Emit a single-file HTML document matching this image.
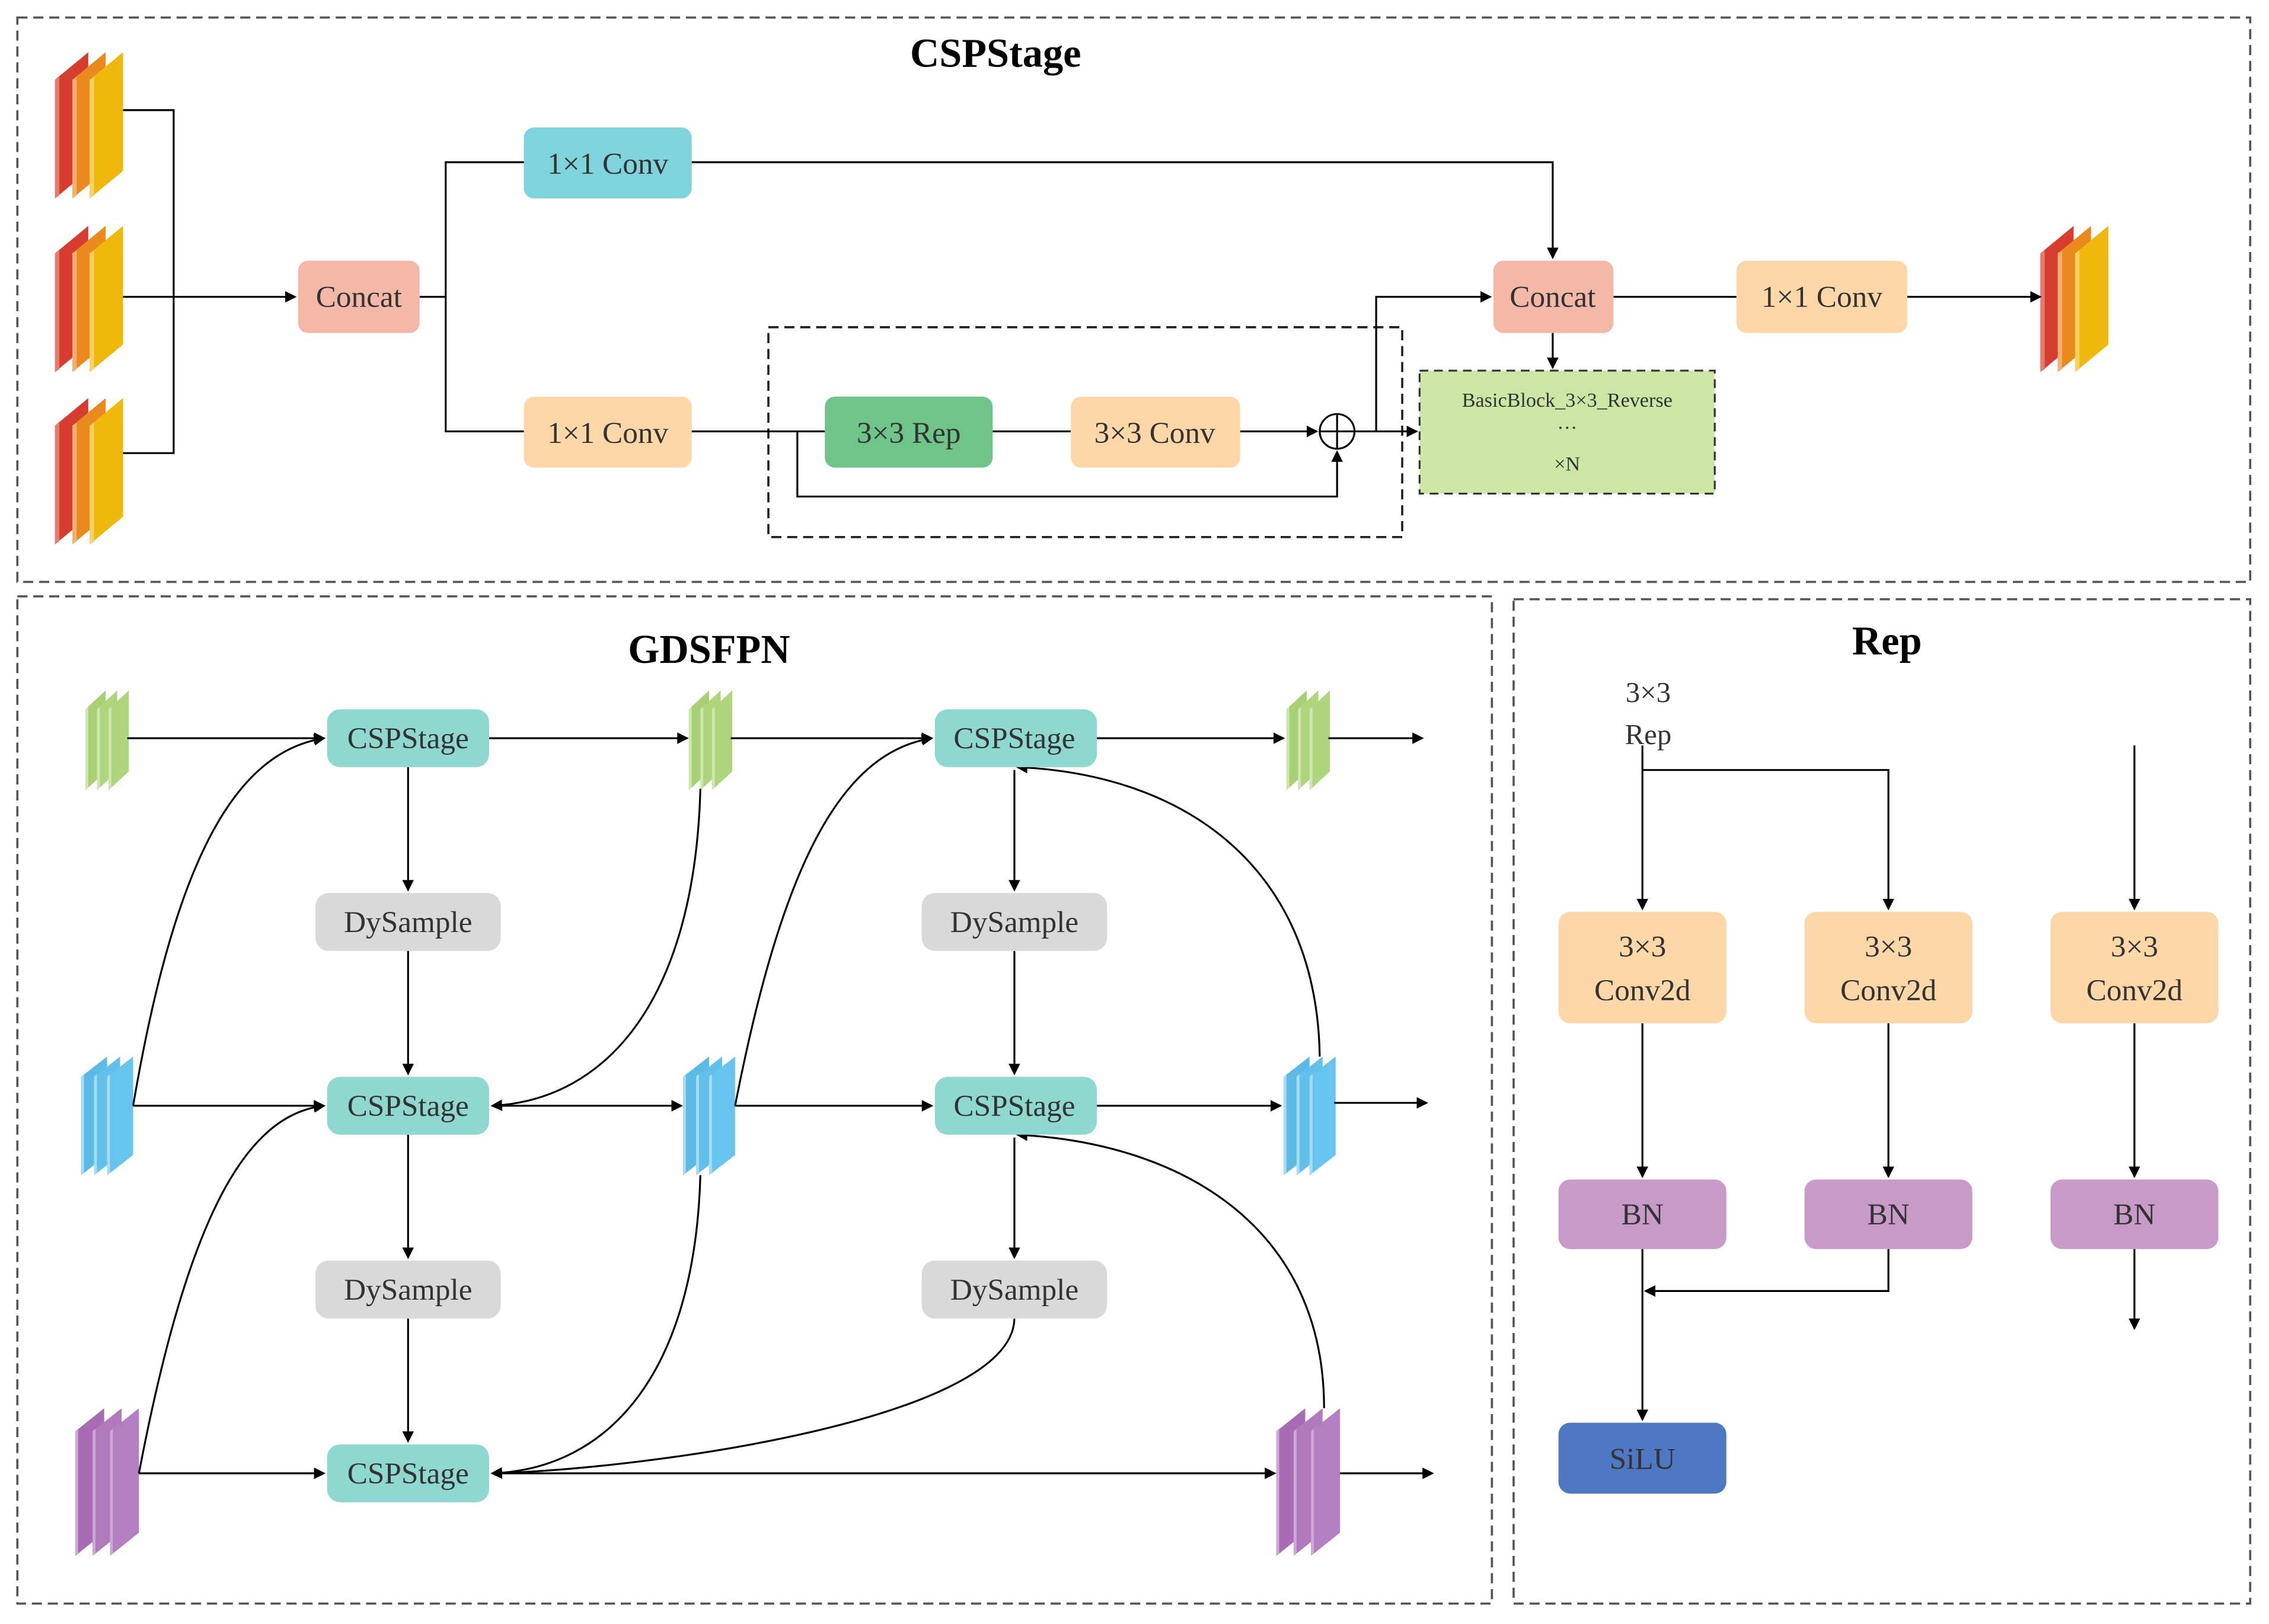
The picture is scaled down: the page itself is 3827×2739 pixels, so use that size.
<!DOCTYPE html>
<html><head><meta charset="utf-8"><style>
html,body{margin:0;padding:0;background:#fff}
svg{display:block}
text{font-family:"Liberation Serif",serif;fill:#333}
</style></head><body>
<svg width="3827" height="2739" viewBox="0 0 1568 1122" xmlns="http://www.w3.org/2000/svg">
<defs>
<marker id="a" markerWidth="8" markerHeight="8" refX="7" refY="4" orient="auto" markerUnits="userSpaceOnUse"><path d="M0,0 L8,4 L0,8 z" fill="#000"/></marker>
<g id="stk">
 <polygon points="0,19 23,0 23,82 0,101" fill="#d63c30"/><polygon points="0,19 3,17 3,99 0,101" fill="#e57b70"/>
 <polygon points="12,19 35,0 35,82 12,101" fill="#ea8a1e"/><polygon points="12,19 15,17 15,99 12,101" fill="#f3b070"/>
 <polygon points="24,19 47,0 47,82 24,101" fill="#f0b80c"/><polygon points="24,19 27,17 27,99 24,101" fill="#f7d260"/>
</g>
<g id="g3">
 <polygon points="0,13 14,0 14,56 0,69" fill="#a8cf74"/><polygon points="0,13 2,11 2,67 0,69" fill="#cfe5b0"/>
 <polygon points="8,13 22,0 22,56 8,69" fill="#aed57c"/><polygon points="8,13 10,11 10,67 8,69" fill="#cfe5b0"/>
 <polygon points="16,13 30,0 30,56 16,69" fill="#aed57c"/><polygon points="16,13 18,11 18,67 16,69" fill="#cfe5b0"/>
</g>
<g id="b3">
 <polygon points="0,14 18,0 18,68 0,82" fill="#5bbbe6"/><polygon points="0,14 2,12 2,80 0,82" fill="#a8dcf3"/>
 <polygon points="9,14 27,0 27,68 9,82" fill="#62c0ea"/><polygon points="9,14 11,12 11,80 9,82" fill="#a8dcf3"/>
 <polygon points="18,14 36,0 36,68 18,82" fill="#66c4ee"/><polygon points="18,14 20,12 20,80 18,82" fill="#a8dcf3"/>
</g>
<g id="p3">
 <polygon points="0,16 20,0 20,86 0,102" fill="#a86cb4"/><polygon points="0,16 2,14 2,100 0,102" fill="#cfa6d8"/>
 <polygon points="12,16 32,0 32,86 12,102" fill="#b07abd"/><polygon points="12,16 14,14 14,100 12,102" fill="#cfa6d8"/>
 <polygon points="24,16 44,0 44,86 24,102" fill="#b47ec2"/><polygon points="24,16 26,14 26,100 24,102" fill="#cfa6d8"/>
</g>
</defs>
<g fill="none" stroke="#555" stroke-width="1.5" stroke-dasharray="7,4">
<rect x="12" y="12" width="1543" height="390"/>
<rect x="12" y="412" width="1019" height="696"/>
<rect x="1046" y="414" width="509" height="694"/>
<rect x="531" y="226" width="438" height="145" stroke="#222"/>
</g>
<text x="688" y="46" font-size="28" font-weight="bold" text-anchor="middle" style="fill:#000">CSPStage</text>
<text x="490" y="458" font-size="28" font-weight="bold" text-anchor="middle" style="fill:#000">GDSFPN</text>
<text x="1304" y="452" font-size="28" font-weight="bold" text-anchor="middle" style="fill:#000">Rep</text>

<use href="#stk" x="38" y="36"/><use href="#stk" x="38" y="156"/><use href="#stk" x="38" y="275"/>
<use href="#stk" x="1410" y="156"/>

<g stroke="#000" stroke-width="1.3" fill="none">
<path d="M85,76 H120 V313 H85"/>
<path d="M85,205 H204" marker-end="url(#a)"/>
<path d="M290,205 H308 V112 H362 M308,205 V298 H362"/>
<path d="M478,112 H1073 V178" marker-end="url(#a)"/>
<path d="M1115,205 H1200"/>
<path d="M1318,205 H1410" marker-end="url(#a)"/>
<path d="M478,298 H570 M686,298 H740"/>
<path d="M857,298 H910" marker-end="url(#a)"/>
<path d="M551,298 V343 H924 V312" marker-end="url(#a)"/>
<path d="M936,298 H979" marker-end="url(#a)"/>
<path d="M951,298 V205 H1030" marker-end="url(#a)"/>
<path d="M1073,230 V254" marker-end="url(#a)"/>
<circle cx="924" cy="298" r="12"/>
<path d="M912,298 H936 M924,286 V310"/>
</g>
<g font-size="21" text-anchor="middle">
<rect x="206" y="180" width="84" height="50" rx="7" fill="#f4b8a8"/><text x="248" y="212">Concat</text>
<rect x="362" y="88" width="116" height="49" rx="7" fill="#7fd3dc"/><text x="420" y="120">1×1 Conv</text>
<rect x="362" y="274" width="116" height="49" rx="7" fill="#fdd7a8"/><text x="420" y="306">1×1 Conv</text>
<rect x="570" y="274" width="116" height="49" rx="7" fill="#6fc48a"/><text x="628" y="306">3×3 Rep</text>
<rect x="740" y="274" width="117" height="49" rx="7" fill="#fdd7a8"/><text x="798" y="306">3×3 Conv</text>
<rect x="1032" y="180" width="83" height="50" rx="7" fill="#f4b8a8"/><text x="1073" y="212">Concat</text>
<rect x="1200" y="180" width="118" height="50" rx="7" fill="#fdd7a8"/><text x="1259" y="212">1×1 Conv</text>
</g>
<rect x="981" y="256" width="204" height="85" fill="#cde5a5" stroke="#333" stroke-width="1.3" stroke-dasharray="6,4"/>
<text x="1083" y="281" font-size="14" text-anchor="middle">BasicBlock_3×3_Reverse</text>
<text x="1083" y="300" font-size="14" text-anchor="middle">···</text>
<text x="1083" y="325" font-size="14" text-anchor="middle">×N</text>

<!-- GDSFPN -->
<use href="#g3" x="59" y="477"/><use href="#g3" x="476" y="477"/><use href="#g3" x="889" y="477"/>
<use href="#b3" x="56" y="730"/><use href="#b3" x="472" y="730"/><use href="#b3" x="887" y="730"/>
<use href="#p3" x="52" y="973"/><use href="#p3" x="882" y="973"/>
<g stroke="#000" stroke-width="1.3" fill="none">
<path d="M88,510 H224" marker-end="url(#a)"/>
<path d="M338,510 H475" marker-end="url(#a)"/>
<path d="M505,510 H644" marker-end="url(#a)"/>
<path d="M758,510 H887" marker-end="url(#a)"/>
<path d="M918,510 H983" marker-end="url(#a)"/>
<path d="M92,764 H224" marker-end="url(#a)"/>
<path d="M340,764 H471" marker-end="url(#a)"/>
<path d="M508,764 H644" marker-end="url(#a)"/>
<path d="M758,764 H885" marker-end="url(#a)"/>
<path d="M922,762 H986" marker-end="url(#a)"/>
<path d="M96,1018 H224" marker-end="url(#a)"/>
<path d="M340,1018 H881" marker-end="url(#a)"/>
<path d="M926,1018 H990" marker-end="url(#a)"/>
<path d="M282,530 V615" marker-end="url(#a)"/>
<path d="M282,657 V742" marker-end="url(#a)"/>
<path d="M282,784 V869" marker-end="url(#a)"/>
<path d="M282,911 V996" marker-end="url(#a)"/>
<path d="M701,532 V615" marker-end="url(#a)"/>
<path d="M701,657 V742" marker-end="url(#a)"/>
<path d="M701,786 V869" marker-end="url(#a)"/>
<path d="M92,764 C120,600 160,520 224,510" marker-end="url(#a)"/>
<path d="M96,1018 C130,840 170,770 224,764" marker-end="url(#a)"/>
<path d="M484,545 C480,690 420,760 340,764" marker-end="url(#a)"/>
<path d="M484,812 C480,950 420,1015 340,1018" marker-end="url(#a)"/>
<path d="M701,911 C700,980 450,1015 340,1018" marker-end="url(#a)"/>
<path d="M508,764 C540,600 580,520 644,510" marker-end="url(#a)"/>
<path d="M912,730 C910,600 820,535 703,530" marker-end="url(#a)"/>
<path d="M915,973 C915,850 820,790 703,784" marker-end="url(#a)"/>
</g>
<g font-size="21" text-anchor="middle">
<rect x="226" y="490" width="112" height="40" rx="9" fill="#8ed8d0"/><text x="282" y="517">CSPStage</text>
<rect x="226" y="744" width="112" height="40" rx="9" fill="#8ed8d0"/><text x="282" y="771">CSPStage</text>
<rect x="226" y="998" width="112" height="40" rx="9" fill="#8ed8d0"/><text x="282" y="1025">CSPStage</text>
<rect x="646" y="490" width="112" height="40" rx="9" fill="#8ed8d0"/><text x="701" y="517">CSPStage</text>
<rect x="646" y="744" width="112" height="40" rx="9" fill="#8ed8d0"/><text x="701" y="771">CSPStage</text>
<rect x="218" y="617" width="128" height="40" rx="9" fill="#d9d9d9"/><text x="282" y="644">DySample</text>
<rect x="218" y="871" width="128" height="40" rx="9" fill="#d9d9d9"/><text x="282" y="898">DySample</text>
<rect x="637" y="617" width="128" height="40" rx="9" fill="#d9d9d9"/><text x="701" y="644">DySample</text>
<rect x="637" y="871" width="128" height="40" rx="9" fill="#d9d9d9"/><text x="701" y="898">DySample</text>
</g>

<!-- Rep -->
<text x="1139" y="485" font-size="20" text-anchor="middle">3×3</text>
<text x="1139" y="514" font-size="20" text-anchor="middle">Rep</text>
<g stroke="#000" stroke-width="1.3" fill="none">
<path d="M1135,515 V628" marker-end="url(#a)"/>
<path d="M1135,532 H1305 V628" marker-end="url(#a)"/>
<path d="M1475,515 V628" marker-end="url(#a)"/>
<path d="M1135,707 V813" marker-end="url(#a)"/>
<path d="M1305,707 V813" marker-end="url(#a)"/>
<path d="M1475,707 V813" marker-end="url(#a)"/>
<path d="M1305,863 V892 H1137" marker-end="url(#a)"/>
<path d="M1135,863 V981" marker-end="url(#a)"/>
<path d="M1475,863 V918" marker-end="url(#a)"/>
</g>
<g font-size="21" text-anchor="middle">
<rect x="1077" y="630" width="116" height="77" rx="8" fill="#fdd7a8"/><text x="1135" y="661">3×3</text><text x="1135" y="691">Conv2d</text>
<rect x="1247" y="630" width="116" height="77" rx="8" fill="#fdd7a8"/><text x="1305" y="661">3×3</text><text x="1305" y="691">Conv2d</text>
<rect x="1417" y="630" width="116" height="77" rx="8" fill="#fdd7a8"/><text x="1475" y="661">3×3</text><text x="1475" y="691">Conv2d</text>
<rect x="1077" y="815" width="116" height="48" rx="8" fill="#c89ac8"/><text x="1135" y="846">BN</text>
<rect x="1247" y="815" width="116" height="48" rx="8" fill="#c89ac8"/><text x="1305" y="846">BN</text>
<rect x="1417" y="815" width="116" height="48" rx="8" fill="#c89ac8"/><text x="1475" y="846">BN</text>
<rect x="1077" y="983" width="116" height="49" rx="8" fill="#4f78c4"/><text x="1135" y="1015">SiLU</text>
</g>
</svg>
</body></html>
